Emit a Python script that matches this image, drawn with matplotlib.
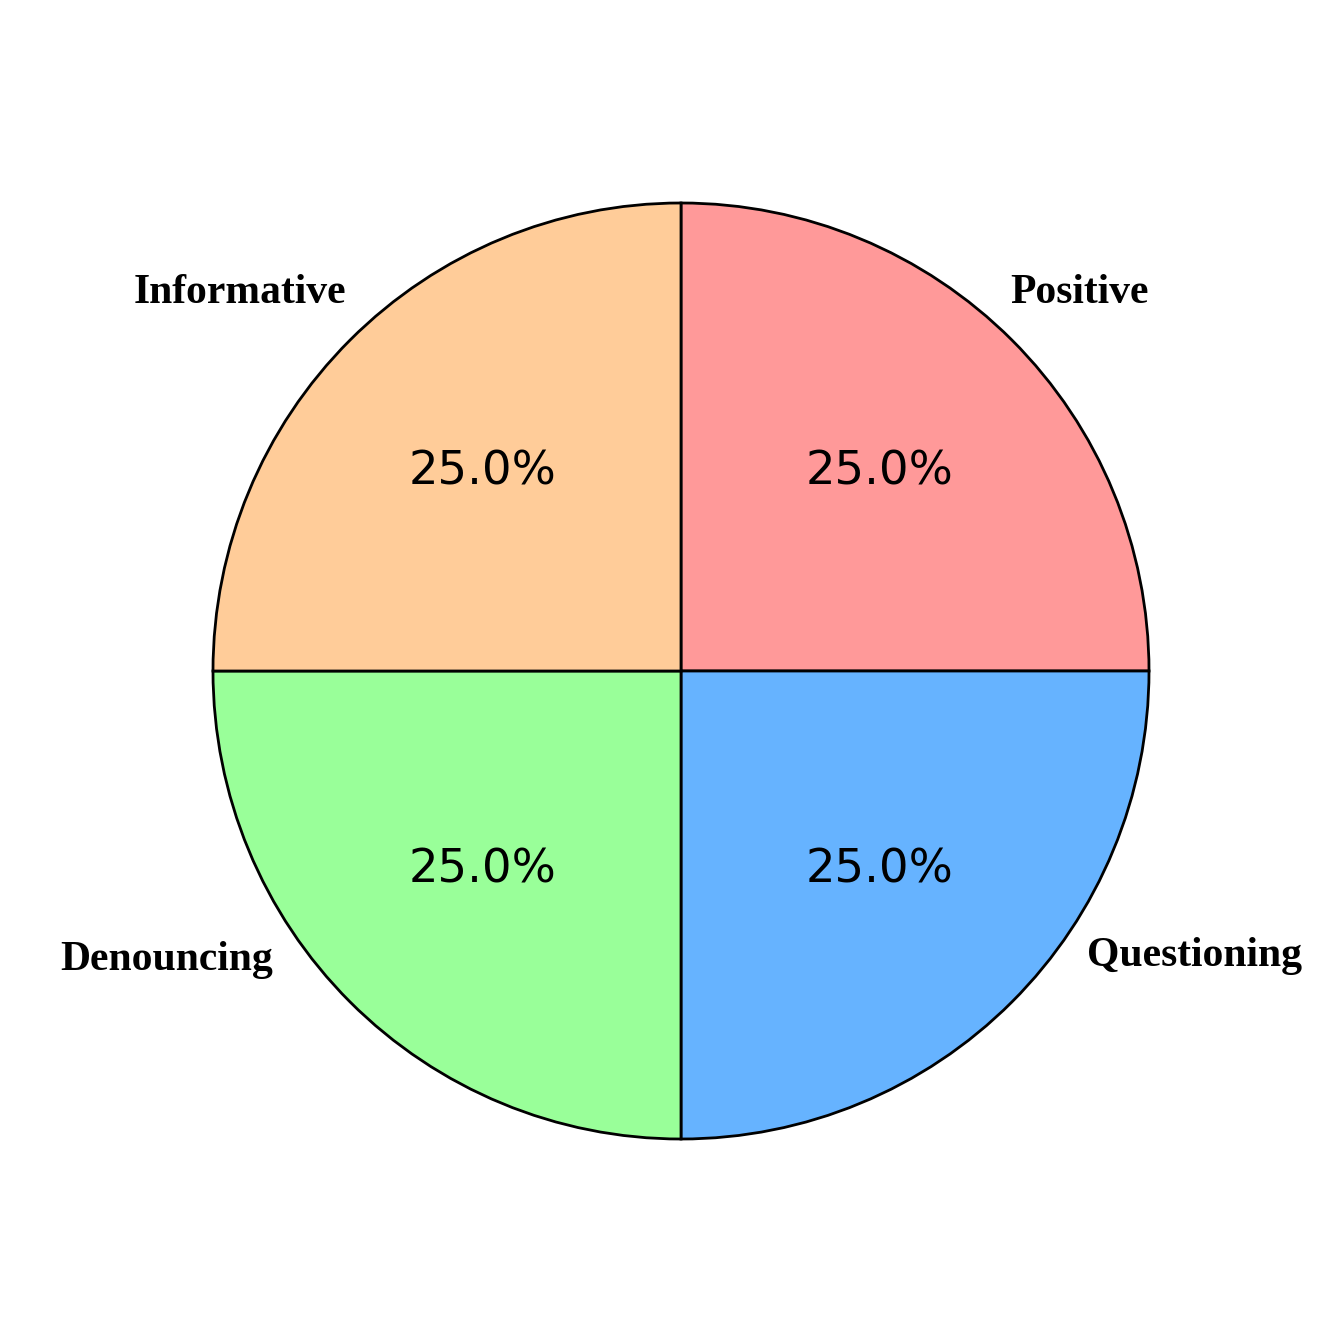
import matplotlib
matplotlib.use("Agg")
import matplotlib.pyplot as plt

labels = ["Positive", "Questioning", "Denouncing", "Informative"]
values = [25, 25, 25, 25]
colors = ["#ff9999", "#66b3ff", "#99ff99", "#ffcc99"]
# label anchor positions (data units, radius = 1) and alignment
label_pos = [(0.703, 0.808), (0.868, -0.608), (-0.872, -0.617), (-0.716, 0.808)]
label_ha = ["left", "left", "right", "right"]

fig = plt.figure(figsize=(13.29, 13.29), dpi=100)
ax = fig.add_axes([0, 0, 1, 1])
wedges, texts, autotexts = ax.pie(
    values, labels=labels, colors=colors, startangle=90, counterclock=False,
    autopct="%1.1f%%", pctdistance=0.6,
    wedgeprops=dict(edgecolor="black", linewidth=2),
    textprops=dict(fontsize=30),
)
for t, p, ha in zip(texts, label_pos, label_ha):
    t.set_position(p)
    t.set_ha(ha)
    t.set_va("center")
    t.set_fontfamily("Liberation Serif")
    t.set_fontweight("bold")
    t.set_fontsize(30)
for a in autotexts:
    a.set_fontsize(33.5)
    a.set_fontfamily("DejaVu Sans")

ax.set_xlim(-681 / 468, (1329 - 681) / 468)
ax.set_ylim(-(1329 - 671) / 468, 671 / 468)
ax.set_aspect("equal")
ax.axis("off")
fig.savefig("out.png", dpi=100)
